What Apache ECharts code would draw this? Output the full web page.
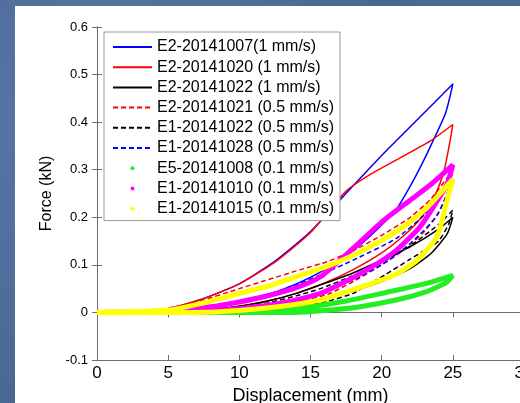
<!DOCTYPE html>
<html>
<head>
<meta charset="utf-8">
<script src="https://cdn.jsdelivr.net/npm/echarts@6/dist/echarts.min.js"></script>
<style>
  html, body { margin: 0; padding: 0; }
  body {
    width: 520px; height: 403px; overflow: hidden; position: relative;
    background: #4f6d99;
    background-image: radial-gradient(circle at 20% 30%, #5a79a6 0%, #4a6794 60%, #4f6d99 100%);
  }
  #panel { position: absolute; left: 15px; top: 6px; width: 505px; height: 397px; background: #fff; }
  #chart { position: absolute; left: 0; top: 0; width: 520px; height: 403px; }
</style>
</head>
<body>
<div id="panel"></div>
<div id="chart"></div>
<script>
// axis ticks
var xTicks = [0, 5, 10, 15, 20, 25, 30];
var yTicks = [-0.1, 0, 0.1, 0.2, 0.3, 0.4, 0.5, 0.6];

// legend names
var names = [
    'E2-20141007(1 mm/s)',
    'E2-20141020 (1 mm/s)',
    'E2-20141022 (1 mm/s)',
    'E2-20141021 (0.5 mm/s)',
    'E1-20141022 (0.5 mm/s)',
    'E1-20141028 (0.5 mm/s)',
    'E5-20141008 (0.1 mm/s)',
    'E1-20141010 (0.1 mm/s)',
    'E1-20141015 (0.1 mm/s)'
];

// [displacement mm, force kN], loading then unloading
var e2_1007 = [[0,0],[3,0.002],[5,0.008],[7.2,0.026],[10,0.06],[12.6,0.11],[15,0.17],[17.8,0.26],[20,0.33],[22.5,0.405],[25,0.48],
    [24.5,0.42],[23.6,0.36],[22.8,0.31],[22,0.265],[21,0.215],[19.7,0.175],[18,0.13],[16,0.09],[14,0.06],[12,0.037],[10,0.02],[7,0.006],[4,0],[0,0]];
var e2_1020 = [[0,0],[3,0.002],[5,0.008],[7.2,0.026],[10,0.06],[12.6,0.108],[15,0.168],[17.5,0.255],[19.2,0.29],[21,0.32],[23.4,0.36],[25,0.395],
    [24.8,0.36],[24.4,0.3],[23.8,0.25],[22.8,0.2],[21.5,0.16],[20,0.125],[18,0.09],[16,0.062],[14,0.04],[12,0.024],[10,0.013],[7,0.004],[4,0],[0,0]];
var e2_1022 = [[0,0],[5,0.001],[8,0.006],[10,0.013],[12,0.024],[14,0.04],[15.7,0.058],[18,0.083],[20,0.11],[22,0.138],[24,0.175],[25,0.2],
    [24.6,0.165],[23.5,0.125],[22,0.092],[20,0.065],[18,0.045],[16,0.028],[14,0.016],[12,0.007],[10,0.002],[7,0],[0,0]];
var e2_1021 = [[0,0],[4,0.004],[7.2,0.024],[10,0.05],[11.7,0.066],[14.3,0.09],[16.2,0.107],[18,0.13],[20,0.162],[22,0.2],[23.5,0.24],[25,0.3],
    [24.6,0.25],[24,0.21],[23,0.17],[21.5,0.13],[20,0.1],[18,0.065],[16.2,0.038],[14,0.022],[12,0.012],[10,0.005],[7,0],[0,0]];
var e1_1022 = [[0,0],[6,0.001],[9,0.006],[12,0.02],[14,0.035],[15.7,0.05],[17.8,0.075],[20,0.105],[22,0.14],[24,0.185],[25,0.215],
    [24.7,0.185],[24,0.15],[23,0.13],[22,0.112],[20.3,0.08],[19,0.058],[18,0.04],[16,0.022],[14,0.012],[12,0.005],[9,0],[0,0]];
var e1_1028 = [[0,0],[5,0.002],[8,0.01],[10,0.02],[12,0.038],[14,0.058],[16,0.083],[18,0.11],[21,0.155],[23,0.205],[24.3,0.25],[25,0.3],
    [24.6,0.25],[23.8,0.2],[22.2,0.15],[20.5,0.11],[18.5,0.075],[16,0.045],[14,0.028],[11,0.012],[8,0.003],[5,0],[0,0]];
var e5_1008 = [[0,0],[8,0],[12,0.004],[15,0.012],[17.5,0.024],[20.3,0.042],[23,0.06],[25,0.078],
    [24.5,0.062],[23,0.042],[21,0.026],[18.5,0.012],[16,0.004],[13.8,0],[8,0],[0,0]];
var e1_1010 = [[0,0],[5,0.003],[8,0.012],[10,0.022],[12,0.035],[14,0.052],[15.7,0.075],[18,0.135],[20,0.19],[22,0.236],[23.5,0.27],[25,0.31],
    [24.6,0.27],[23.6,0.22],[22.7,0.18],[21,0.13],[19,0.09],[17,0.058],[15.7,0.04],[13,0.02],[10,0.008],[7,0.002],[0,0]];
var e1_1015 = [[0,0],[5,0.005],[7.2,0.018],[10,0.04],[12,0.055],[14,0.075],[16.2,0.097],[18,0.12],[20.1,0.153],[22,0.19],[23.5,0.23],[25,0.28],
    [24.5,0.225],[23.9,0.16],[22.5,0.11],[21,0.08],[19,0.058],[17,0.038],[15.7,0.026],[13,0.013],[10,0.004],[7,0],[0,0]];

var loops = [e2_1007, e2_1020, e2_1022, e2_1021, e1_1022, e1_1028, e5_1008, e1_1010, e1_1015];
var lineColors = ['#0000ff', '#ff0000', '#000000', '#ff0000', '#000000', '#0000ff', '#22ee22', '#ff00ff', '#ffff00'];
var lineTypes = ['solid', 'solid', 'solid', [5, 3], [5, 3], [5, 3], 'solid', 'solid', 'solid'];
var lineWidths = [1.5, 1.5, 1.5, 1.5, 1.5, 1.5, 5, 5, 5];

var axisGrey = '#6d6d6d';
var font = '"Liberation Sans", Arial, sans-serif';

var series = [];
var legendData = [];
for (var i = 0; i < loops.length; i++) {
    series.push({
        name: names[i],
        type: 'line',
        data: loops[i],
        symbol: 'none',
        smooth: 0.2,
        color: lineColors[i],
        lineStyle: { color: lineColors[i], width: lineWidths[i], type: lineTypes[i] }
    });
    if (lineWidths[i] > 2) {
        // dotted records: legend shows a single dot
        legendData.push({ name: names[i], icon: 'circle', itemStyle: { color: lineColors[i] } });
    } else {
        legendData.push({ name: names[i], itemStyle: { color: 'rgba(0,0,0,0)', borderWidth: 0 } });
    }
}

function mirrorAxis(pos, min, max, interval) {
    return {
        type: 'value', position: pos, min: min, max: max, interval: interval,
        axisLine: { show: true, lineStyle: { color: axisGrey, width: 1 } },
        axisTick: { show: true, inside: true, length: 5, lineStyle: { color: axisGrey } },
        axisLabel: { show: false },
        splitLine: { show: false }
    };
}

var myChart = echarts.init(document.getElementById('chart'));
var option = {
    backgroundColor: 'transparent',
    animation: false,
    grid: { left: 97, top: 27, width: 427, height: 333, outerBoundsMode: 'none', containLabel: false },
    legend: {
        data: legendData,
        orient: 'vertical',
        left: 104,
        top: 32,
        itemWidth: 39,
        itemHeight: 4,
        itemGap: 4.2,
        itemTextGap: 8,
        padding: [7, 6, 4, 8],
        backgroundColor: '#fff',
        borderColor: '#9a9a9a',
        borderWidth: 1,
        textStyle: { fontSize: 16, color: '#000', fontFamily: font }
    },
    xAxis: [{
        type: 'value',
        min: xTicks[0],
        max: xTicks[xTicks.length - 1],
        interval: 5,
        name: 'Displacement (mm)',
        nameLocation: 'middle',
        nameGap: 21,
        nameTextStyle: { fontSize: 18, color: '#000', fontFamily: font },
        axisLine: { show: true, onZero: false, lineStyle: { color: axisGrey, width: 1 } },
        axisTick: { show: true, inside: true, length: 5, lineStyle: { color: axisGrey } },
        axisLabel: { fontSize: 17, color: '#000', fontFamily: font, margin: 5, hideOverlap: false },
        splitLine: { show: false }
    }, mirrorAxis('top', 0, 30, 5)],
    yAxis: [{
        type: 'value',
        min: yTicks[0],
        max: yTicks[yTicks.length - 1],
        interval: 0.1,
        name: 'Force (kN)',
        nameLocation: 'middle',
        nameRotate: 90,
        nameGap: 37,
        nameTextStyle: { fontSize: 16, color: '#000', fontFamily: font },
        axisLine: { show: true, onZero: false, lineStyle: { color: axisGrey, width: 1 } },
        axisTick: { show: true, inside: true, length: 5, lineStyle: { color: axisGrey } },
        axisLabel: {
            fontSize: 13, color: '#000', fontFamily: font, margin: 9,
            formatter: function (v) { return String(+v.toFixed(1)); }
        },
        splitLine: { show: false }
    }, mirrorAxis('right', -0.1, 0.6, 0.1)],
    series: series
};
myChart.setOption(option);
</script>
</body>
</html>
